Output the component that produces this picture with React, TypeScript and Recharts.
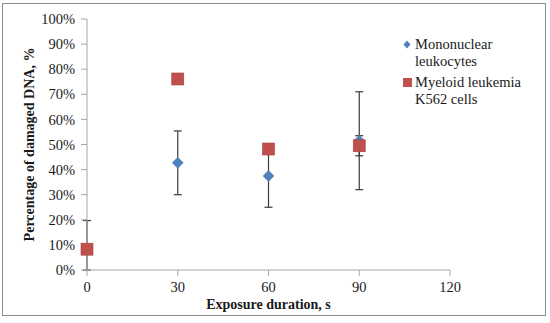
import { ScatterChart, Scatter, XAxis, YAxis, ErrorBar, Label } from "recharts"

// exposure duration, s
const durations = [0, 30, 60, 90]
const xTicks = [0, 30, 60, 90, 120]
const yTicks = [0, 0.1, 0.2, 0.3, 0.4, 0.5, 0.6, 0.7, 0.8, 0.9, 1]

// mononuclear leukocytes (no point at 0 s)
const monoDur = [30, 60, 90]
const monoVal = [0.427, 0.375, 0.515]
const monoErr = [0.127, 0.125, 0.195]

// myeloid leukemia K562 cells
const k562Val = [0.083, 0.761, 0.482, 0.495]
const k562Err: (number | number[])[] = [[0.083, 0.114], 0.012, 0.015, 0.04]

const monoData = monoDur.map((d, i) => ({ x: d, y: monoVal[i], err: monoErr[i] }))
const k562Data = durations.map((d, i) => ({ x: d, y: k562Val[i], err: k562Err[i] }))

const FONT = "Liberation Serif"
const BLUE = "#4f81bd"
const RED = "#c0504d"
const AXIS = "#a6a6a6"

const Diamond = (props: any) => {
  const { cx, cy } = props
  const r = 5.5
  return (
    <path
      d={`M${cx},${cy - r} L${cx + r},${cy} L${cx},${cy + r} L${cx - r},${cy} Z`}
      fill={BLUE}
      stroke="#4472a8"
      strokeWidth={0.5}
    />
  )
}

const Square = (props: any) => {
  const { cx, cy } = props
  const h = 6
  return <rect x={cx - h} y={cy - h} width={h * 2} height={h * 2} fill={RED} stroke="#a5423f" strokeWidth={0.6} />
}

function LegendBox() {
  const item = { display: "flex", alignItems: "flex-start", marginBottom: 4 }
  const text = { lineHeight: "17px", color: "#1a1a1a" }
  return (
    <div style={{ position: "absolute", left: 402, top: 36, fontFamily: FONT, fontSize: 14.5 }}>
      <div style={item}>
        <svg width={10} height={17} style={{ marginRight: 3 }}>
          <path d="M5,4.5 L8.5,8.5 L5,12.5 L1.5,8.5 Z" fill={BLUE} />
        </svg>
        <div style={text}>
          Mononuclear
          <br />
          leukocytes
        </div>
      </div>
      <div style={item}>
        <svg width={10} height={17} style={{ marginRight: 3 }}>
          <rect x={1} y={4} width={9} height={9} fill={RED} />
        </svg>
        <div style={text}>
          Myeloid leukemia
          <br />
          K562 cells
        </div>
      </div>
    </div>
  )
}

export default function App() {
  const tick = { fontSize: 14.5, fill: "#1a1a1a" }
  return (
    <div style={{ position: "relative", width: 550, height: 323, background: "#fff", fontFamily: FONT }}>
      <style>{`body{margin:0} .recharts-wrapper text{font-family:"Liberation Serif",serif}`}</style>
      <div
        style={{
          position: "absolute",
          left: 2,
          top: 3,
          width: 542,
          height: 311,
          border: "1.5px solid #8e8e8e",
        }}
      />
      <ScatterChart
        width={550}
        height={323}
        margin={{ top: 19, right: 100, bottom: 0, left: 0 }}
        style={{ fontFamily: FONT }}
      >
        <XAxis
          type="number"
          dataKey="x"
          domain={[0, 120]}
          ticks={xTicks}
          height={53}
          stroke={AXIS}
          tick={tick}
          tickSize={6}
          tickMargin={6}
        >
          <Label
            value="Exposure duration, s"
            position="center"
            dy={8}
            style={{ fontSize: 14, fontWeight: "bold", fill: "#1a1a1a" }}
          />
        </XAxis>
        <YAxis
          type="number"
          dataKey="y"
          domain={[0, 1]}
          allowDataOverflow
          ticks={yTicks}
          width={87}
          stroke={AXIS}
          tick={tick}
          tickSize={6}
          tickMargin={6}
          tickFormatter={(v: number) => `${Math.round(v * 100)}%`}
        >
          <Label
            value="Percentage of damaged DNA, %"
            position="center"
            angle={-90}
            dx={-14}
            style={{ fontSize: 14, fontWeight: "bold", fill: "#1a1a1a", textAnchor: "middle" }}
          />
        </YAxis>
        <Scatter name="Mononuclear leukocytes" data={monoData} shape={Diamond} isAnimationActive={false}>
          <ErrorBar dataKey="err" direction="y" width={4} stroke="#3a3a3a" strokeWidth={1.2} />
        </Scatter>
        <Scatter name="Myeloid leukemia K562 cells" data={k562Data} shape={Square} isAnimationActive={false}>
          <ErrorBar dataKey="err" direction="y" width={4} stroke="#3a3a3a" strokeWidth={1.2} />
        </Scatter>
      </ScatterChart>
      <LegendBox />
    </div>
  )
}
